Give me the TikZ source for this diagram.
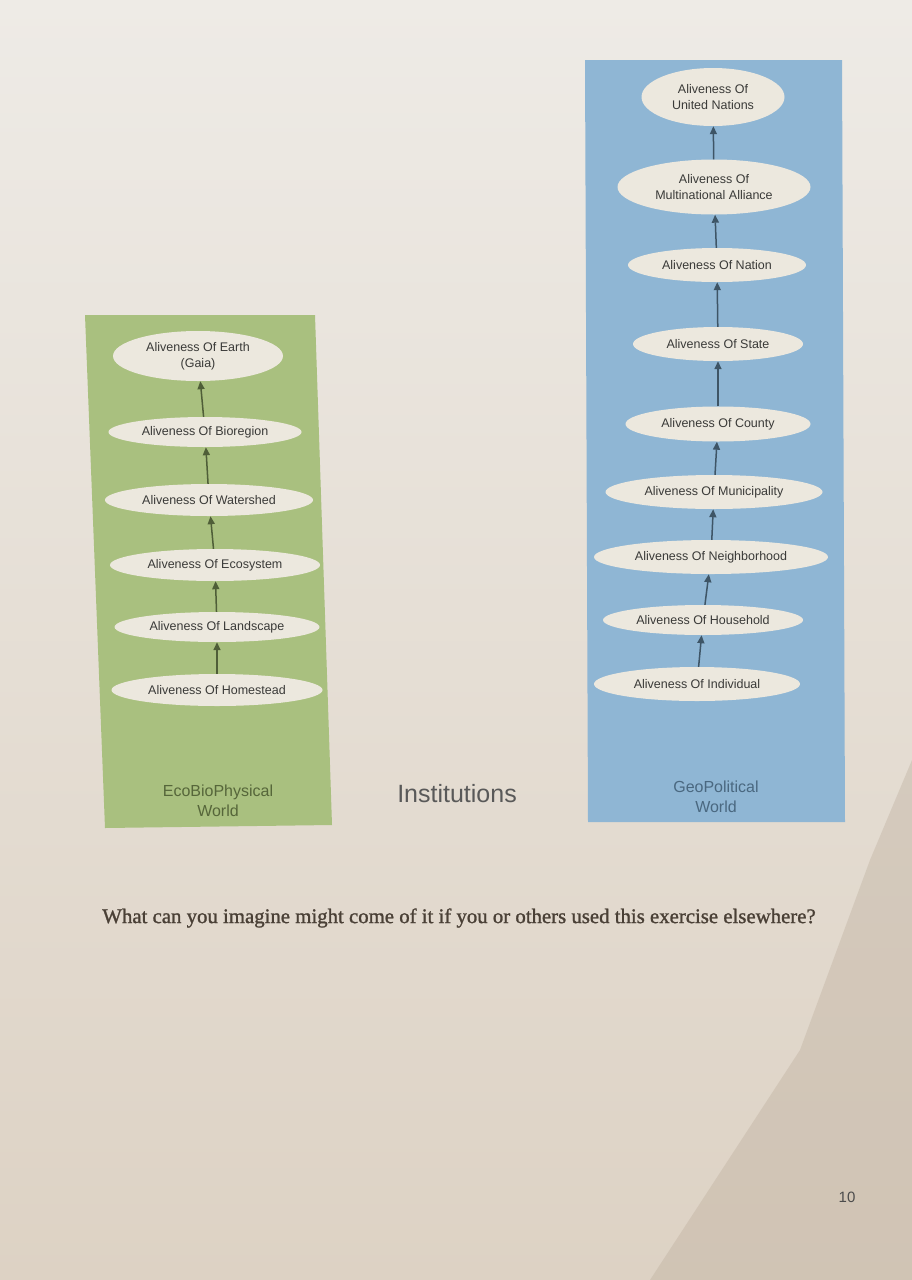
\documentclass[tikz,border=0pt]{standalone}
\usepackage{fontspec}
\setmainfont{Liberation Sans}
\newfontfamily\qfont[FakeBold=1.2]{Liberation Serif}
\usetikzlibrary{shapes.geometric,arrows.meta}
\definecolor{pagetop}{HTML}{EEEBE6}
\definecolor{pagebot}{HTML}{DDD2C4}
\definecolor{greenpanel}{HTML}{A9C07F}
\definecolor{bluepanel}{HTML}{8FB6D4}
\definecolor{ovalfill}{HTML}{ECE8DE}
\definecolor{ovaltext}{HTML}{3A3A38}
\definecolor{greenarrow}{HTML}{4F5E38}
\definecolor{bluearrow}{HTML}{3E5566}
\definecolor{greenlabel}{HTML}{56663A}
\definecolor{bluelabel}{HTML}{4A6880}
\definecolor{qtext}{HTML}{4A4036}
\definecolor{shadow}{HTML}{B9AA98}
\tikzset{
  oval/.style={ellipse, fill=ovalfill, inner sep=0pt, text=ovaltext, font=\fontsize{12.5}{16}\selectfont, align=center},
  garrow/.style={draw=greenarrow, line width=1.5pt, -{Triangle[length=8pt,width=7pt]}},
  barrow/.style={draw=bluearrow, line width=1.5pt, -{Triangle[length=8pt,width=7pt]}},
  worldlabel/.style={font=\fontsize{16}{20}\selectfont, align=center},
}
\begin{document}
\begin{tikzpicture}[x=1pt,y=-1pt]
\useasboundingbox (0,0) rectangle (912,1280);
\shade[top color=pagetop, bottom color=pagebot] (0,0) rectangle (912,1280);
\fill[shadow, opacity=0.35] (912,760) -- (912,1280) -- (650,1280) -- (800,1050) -- (870,860) -- cycle;
% panels
\fill[greenpanel] (85,315) -- (315,315) -- (332,825) -- (105,828) -- cycle;
\fill[bluepanel] (585,60) -- (842,60) -- (845,822) -- (588,822) -- cycle;
% green nodes
\node[oval, minimum width=170pt, minimum height=50pt] (earth) at (198,356) {Aliveness Of Earth\\(Gaia)};
\node[oval, minimum width=193pt, minimum height=30pt] (bio) at (205,432) {Aliveness Of Bioregion};
\node[oval, minimum width=208pt, minimum height=32pt] (water) at (209,500) {Aliveness Of Watershed};
\node[oval, minimum width=210pt, minimum height=32pt] (eco) at (215,565) {Aliveness Of Ecosystem};
\node[oval, minimum width=205pt, minimum height=30pt] (land) at (217,627) {Aliveness Of Landscape};
\node[oval, minimum width=211pt, minimum height=32pt] (home) at (217,690) {Aliveness Of Homestead};
\draw[garrow] (bio) -- (earth);
\draw[garrow] (water) -- (bio);
\draw[garrow] (eco) -- (water);
\draw[garrow] (land) -- (eco);
\draw[garrow] (home) -- (land);
\node[worldlabel, text=greenlabel] (ecolabel) at (218,801) {EcoBioPhysical\\World};
% blue nodes
\node[oval, minimum width=143pt, minimum height=58pt] (un) at (713,97) {Aliveness Of\\United Nations};
\node[oval, minimum width=193pt, minimum height=55pt] (multi) at (714,187) {Aliveness Of\\Multinational Alliance};
\node[oval, minimum width=178pt, minimum height=34pt] (nation) at (717,265) {Aliveness Of Nation};
\node[oval, minimum width=170pt, minimum height=34pt] (state) at (718,344) {Aliveness Of State};
\node[oval, minimum width=185pt, minimum height=35pt] (county) at (718,424) {Aliveness Of County};
\node[oval, minimum width=217pt, minimum height=34pt] (muni) at (714,492) {Aliveness Of Municipality};
\node[oval, minimum width=234pt, minimum height=34pt] (neigh) at (711,557) {Aliveness Of Neighborhood};
\node[oval, minimum width=200pt, minimum height=30pt] (house) at (703,620) {Aliveness Of Household};
\node[oval, minimum width=206pt, minimum height=34pt] (indiv) at (697,684) {Aliveness Of Individual};
\draw[barrow] (multi) -- (un);
\draw[barrow] (nation) -- (multi);
\draw[barrow] (state) -- (nation);
\draw[barrow] (county) -- (state);
\draw[barrow] (muni) -- (county);
\draw[barrow] (neigh) -- (muni);
\draw[barrow] (house) -- (neigh);
\draw[barrow] (indiv) -- (house);
\node[worldlabel, text=bluelabel] (geolabel) at (716,797) {GeoPolitical\\World};
% middle label
\node[font=\fontsize{25}{30}\selectfont, text=black!65] (inst) at (457,794) {Institutions};
% question
\node[font=\qfont\fontsize{20.8}{24}\selectfont, text=qtext] (question) at (459,918) {What can you imagine might come of it if you or others used this exercise elsewhere?};
% page number
\node[font=\fontsize{15}{18}\selectfont, text=black!70] (pagenum) at (847,1197) {10};
\end{tikzpicture}
\end{document}
